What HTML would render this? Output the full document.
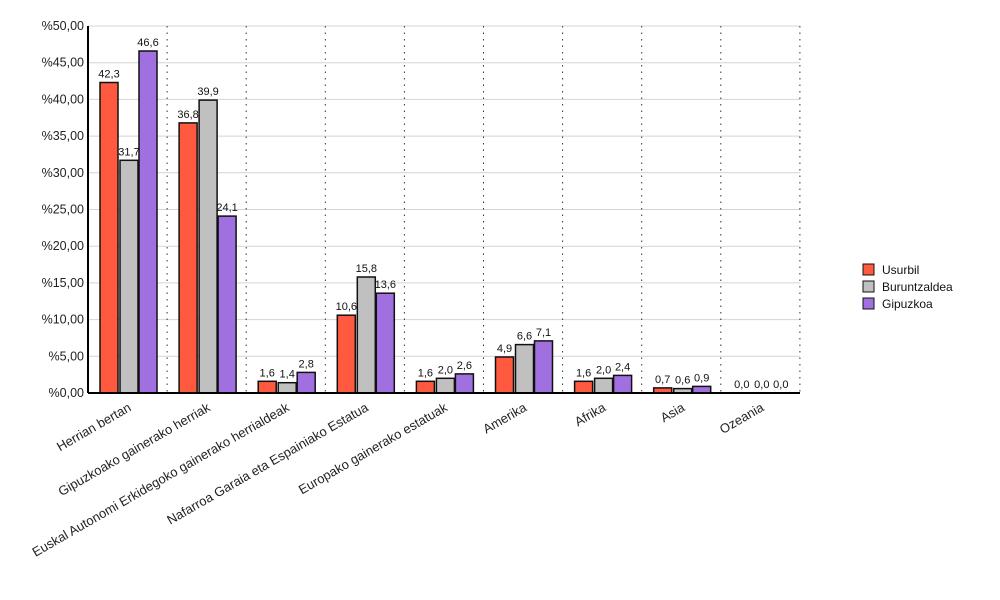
<!DOCTYPE html>
<html><head><meta charset="utf-8"><style>body{margin:0;background:#fff}svg{display:block;font-family:"Liberation Sans",sans-serif}</style></head><body>
<svg width="1000" height="600" xmlns="http://www.w3.org/2000/svg">
<g stroke="#d4d4d4">
<line x1="88" x2="800" y1="356.3" y2="356.3"/><line x1="88" x2="800" y1="319.6" y2="319.6"/><line x1="88" x2="800" y1="282.9" y2="282.9"/><line x1="88" x2="800" y1="246.2" y2="246.2"/><line x1="88" x2="800" y1="209.5" y2="209.5"/><line x1="88" x2="800" y1="172.8" y2="172.8"/><line x1="88" x2="800" y1="136.1" y2="136.1"/><line x1="88" x2="800" y1="99.4" y2="99.4"/><line x1="88" x2="800" y1="62.7" y2="62.7"/><line x1="88" x2="800" y1="26" y2="26"/>
</g>
<g font-size="12.5" text-anchor="end" fill="#222">
<text x="84" y="397">%0,00</text><text x="84" y="360.3">%5,00</text><text x="84" y="323.6">%10,00</text><text x="84" y="286.9">%15,00</text><text x="84" y="250.2">%20,00</text><text x="84" y="213.5">%25,00</text><text x="84" y="176.8">%30,00</text><text x="84" y="140.1">%35,00</text><text x="84" y="103.4">%40,00</text><text x="84" y="66.7">%45,00</text><text x="84" y="30">%50,00</text>
</g>
<g stroke="#333" stroke-dasharray="1.5,5">
<line x1="167.1" x2="167.1" y1="26" y2="393"/><line x1="246.2" x2="246.2" y1="26" y2="393"/><line x1="325.3" x2="325.3" y1="26" y2="393"/><line x1="404.4" x2="404.4" y1="26" y2="393"/><line x1="483.5" x2="483.5" y1="26" y2="393"/><line x1="562.6" x2="562.6" y1="26" y2="393"/><line x1="641.7" x2="641.7" y1="26" y2="393"/><line x1="720.8" x2="720.8" y1="26" y2="393"/><line x1="799.9" x2="799.9" y1="26" y2="393"/>
</g>
<g stroke="#111" stroke-width="1.5">
<g fill="#ff5a40">
<rect x="100" y="82.5" width="18" height="310.5"/><rect x="179.1" y="122.9" width="18" height="270.1"/><rect x="258.2" y="381.3" width="18" height="11.7"/><rect x="337.3" y="315.2" width="18" height="77.8"/><rect x="416.4" y="381.3" width="18" height="11.7"/><rect x="495.5" y="357" width="18" height="36"/><rect x="574.6" y="381.3" width="18" height="11.7"/><rect x="653.7" y="387.9" width="18" height="5.1"/>
</g>
<g fill="#c0c0c0">
<rect x="120" y="160.3" width="18" height="232.7"/><rect x="199.1" y="100.1" width="18" height="292.9"/><rect x="278.2" y="382.7" width="18" height="10.3"/><rect x="357.3" y="277" width="18" height="116"/><rect x="436.4" y="378.3" width="18" height="14.7"/><rect x="515.5" y="344.6" width="18" height="48.4"/><rect x="594.6" y="378.3" width="18" height="14.7"/><rect x="673.7" y="388.6" width="18" height="4.4"/>
</g>
<g fill="#a070e0">
<rect x="139" y="51" width="18" height="342"/><rect x="218.1" y="216.1" width="18" height="176.9"/><rect x="297.2" y="372.4" width="18" height="20.6"/><rect x="376.3" y="293.2" width="18" height="99.8"/><rect x="455.4" y="373.9" width="18" height="19.1"/><rect x="534.5" y="340.9" width="18" height="52.1"/><rect x="613.6" y="375.4" width="18" height="17.6"/><rect x="692.7" y="386.4" width="18" height="6.6"/>
</g>
</g>
<g font-size="11" text-anchor="middle" fill="#111">
<text x="109" y="77.5">42,3</text><text x="129" y="155.3">31,7</text><text x="148" y="46">46,6</text>
<text x="188.1" y="117.9">36,8</text><text x="208.1" y="95.1">39,9</text><text x="227.1" y="211.1">24,1</text>
<text x="267.2" y="376.3">1,6</text><text x="287.2" y="377.7">1,4</text><text x="306.2" y="367.4">2,8</text>
<text x="346.3" y="310.2">10,6</text><text x="366.3" y="272">15,8</text><text x="385.3" y="288.2">13,6</text>
<text x="425.4" y="376.3">1,6</text><text x="445.4" y="373.3">2,0</text><text x="464.4" y="368.9">2,6</text>
<text x="504.5" y="352">4,9</text><text x="524.5" y="339.6">6,6</text><text x="543.5" y="335.9">7,1</text>
<text x="583.6" y="376.3">1,6</text><text x="603.6" y="373.3">2,0</text><text x="622.6" y="370.4">2,4</text>
<text x="662.7" y="382.9">0,7</text><text x="682.7" y="383.6">0,6</text><text x="701.7" y="381.4">0,9</text>
<text x="741.8" y="388">0,0</text><text x="761.8" y="388">0,0</text><text x="780.8" y="388">0,0</text>
</g>
<g font-size="13" fill="#222" text-anchor="end">
<text x="132" y="410" transform="rotate(-30 132 410)">Herrian bertan</text>
<text x="211.1" y="410" transform="rotate(-30 211.1 410)">Gipuzkoako gainerako herriak</text>
<text x="290.2" y="410" transform="rotate(-30 290.2 410)">Euskal Autonomi Erkidegoko gainerako herrialdeak</text>
<text x="369.3" y="410" transform="rotate(-30 369.3 410)">Nafarroa Garaia eta Espainiako Estatua</text>
<text x="448.4" y="410" transform="rotate(-30 448.4 410)">Europako gainerako estatuak</text>
<text x="527.5" y="410" transform="rotate(-30 527.5 410)">Amerika</text>
<text x="606.6" y="410" transform="rotate(-30 606.6 410)">Afrika</text>
<text x="685.7" y="410" transform="rotate(-30 685.7 410)">Asia</text>
<text x="764.8" y="410" transform="rotate(-30 764.8 410)">Ozeania</text>
</g>
<line x1="88" x2="88" y1="26" y2="393" stroke="#000" stroke-width="2"/>
<line x1="88" x2="800" y1="393" y2="393" stroke="#000" stroke-width="2"/>
<g stroke="#111"><rect x="863" y="264" width="11" height="11" fill="#ff5a40"/><rect x="863" y="281" width="11" height="11" fill="#c0c0c0"/><rect x="863" y="298" width="11" height="11" fill="#a070e0"/></g>
<g font-size="12" fill="#111"><text x="882" y="274">Usurbil</text><text x="882" y="291">Buruntzaldea</text><text x="882" y="308">Gipuzkoa</text></g>
</svg></body></html>
